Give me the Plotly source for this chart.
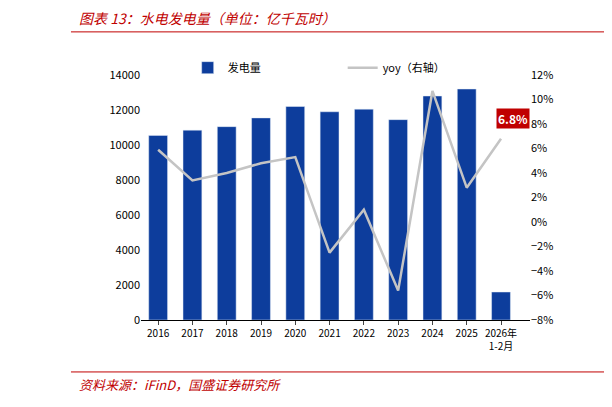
import plotly.graph_objects as go

categories = ["2016","2017","2018","2019","2020","2021","2022","2023","2024","2025","2026年<br>1-2月"]
generation = [10550,10850,11050,11550,12200,11900,12050,11450,12800,13200,1600]
yoy = [5.9,3.4,4.0,4.8,5.3,-2.5,1.0,-5.6,10.7,2.8,6.8]

fig = go.Figure()
fig.add_trace(go.Bar(x=categories, y=generation, name="发电量", marker_color="#0d3d9c", width=0.55))
fig.add_trace(go.Scatter(x=categories, y=yoy, name="yoy（右轴）", yaxis="y2", mode="lines",
                         line=dict(color="#c4c4c4", width=2.5)))
fig.add_annotation(x=categories[-1], y=yoy[-1], yref="y2", text="<b>6.8%</b>", showarrow=False,
                   bgcolor="#c00000", font=dict(color="white", size=12), xshift=12, yshift=20)
font = dict(family="Noto Sans CJK SC, sans-serif", size=11, color="black")
fig.update_layout(
    width=612, height=407, plot_bgcolor="white", paper_bgcolor="white", font=font,
    margin=dict(l=133, r=90, t=67, b=95, autoexpand=False), bargap=0.45,
    xaxis=dict(showline=True, linecolor="black", ticks="outside", ticklen=4, tickfont=dict(size=10)),
    yaxis=dict(range=[0,14000], dtick=2000, tickformat="d", showgrid=False, showline=False, tickfont=dict(size=11)),
    yaxis2=dict(range=[-8,12], dtick=2, overlaying="y", side="right", showgrid=False,
                ticksuffix="%", showline=False, zeroline=False, tickfont=dict(size=11)),
    legend=dict(orientation="h", x=0.12, y=1.03, xanchor="left", yanchor="middle",
                font=dict(size=11), traceorder="normal", entrywidth=110, bgcolor="rgba(0,0,0,0)"),
    showlegend=True,
)
fig.add_annotation(xref="paper", yref="paper", x=-0.165, y=1.233, xanchor="left", yanchor="middle", showarrow=False,
                   text="<i>图表 13：水电发电量（单位：亿千瓦时）</i>",
                   font=dict(size=14, color="#c00000", family="Noto Sans CJK SC"))
fig.add_shape(type="line", xref="paper", yref="paper", x0=-0.18, x1=1.23, y0=1.176, y1=1.176,
              line=dict(color="#c00000", width=1))
fig.add_shape(type="line", xref="paper", yref="paper", x0=-0.18, x1=1.23, y0=-0.212, y1=-0.212,
              line=dict(color="#c00000", width=1))
fig.add_annotation(xref="paper", yref="paper", x=-0.165, y=-0.265, xanchor="left", yanchor="middle", showarrow=False,
                   text="<i>资料来源：iFinD，国盛证券研究所</i>",
                   font=dict(size=13, color="#c00000", family="Noto Sans CJK SC"))
fig.write_html("out.html")
